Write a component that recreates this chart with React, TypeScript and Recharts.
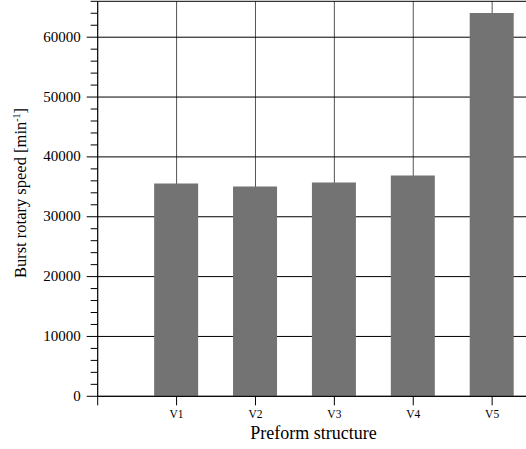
import React from "react"
import { BarChart, Bar, XAxis, YAxis, CartesianGrid } from "recharts"

const categories = ["V1", "V2", "V3", "V4", "V5"]
const positions = [1, 2, 3, 4, 5]
const burstSpeed = [35550, 35050, 35720, 36880, 64050]

const xTicks = [0, 1, 2, 3, 4, 5]
const majorY = [0, 10000, 20000, 30000, 40000, 50000, 60000]
const yTicks = Array.from({ length: 34 }, (_, i) => i * 2000)

const data = categories.map((name, i) => ({ name, pos: positions[i], speed: burstSpeed[i] }))

const FONT = "'Liberation Serif', 'Times New Roman', serif"

const YTick = (props: any) => {
  const { x, y, payload } = props
  const v = payload.value as number
  const major = v % 10000 === 0
  return (
    <g>
      <line x1={x - (major ? 11 : 7)} x2={x} y1={y} y2={y} stroke="#000" />
      {major && (
        <text x={x - 17} y={y} dy={4.5} textAnchor="end" fontSize={15} fontFamily={FONT} fill="#000">
          {v}
        </text>
      )}
    </g>
  )
}

const XTick = (props: any) => {
  const { x, y, payload } = props
  const idx = positions.indexOf(payload.value)
  if (idx < 0) return null
  return (
    <text x={x} y={y} dy={13} textAnchor="middle" fontSize={11.5} fontFamily={FONT} fill="#000">
      {categories[idx]}
    </text>
  )
}

export default function App() {
  return (
    <div style={{ position: "absolute", left: 0, top: 0, width: 526, height: 449, overflow: "hidden", background: "#fff" }}>
      <BarChart
        width={540}
        height={449}
        data={data}
        margin={{ top: 1.3, right: 8.4, left: 0, bottom: 0 }}
        barSize={44}
      >
        <CartesianGrid horizontal={false} vertical stroke="#555" />
        <CartesianGrid horizontal vertical={false} stroke="#000" horizontalValues={[...majorY, 66000]} />
        <XAxis
          dataKey="pos"
          type="number"
          domain={[0, 5.5]}
          ticks={xTicks}
          interval={0}
          allowDataOverflow
          height={52.7}
          tickSize={9}
          tickMargin={0}
          tick={<XTick />}
          axisLine={{ stroke: "#000" }}
          tickLine={{ stroke: "#000" }}
        />
        <YAxis
          type="number"
          domain={[0, 66000]}
          ticks={yTicks}
          interval={0}
          allowDataOverflow
          width={97.7}
          tickSize={0}
          tickMargin={0}
          tick={<YTick />}
          tickLine={false}
          axisLine={{ stroke: "#000" }}
        />
        <Bar dataKey="speed" fill="#737373" isAnimationActive={false} />
      </BarChart>
      <svg width={526} height={449} style={{ position: "absolute", left: 0, top: 0, pointerEvents: "none" }}>
        <text
          transform="translate(26,193) rotate(-90)"
          textAnchor="middle"
          fontSize={16.5}
          fontFamily={FONT}
          fill="#000"
        >
          Burst rotary speed [min
          <tspan dy={-6} fontSize={10}>-1</tspan>
          <tspan dy={6}>]</tspan>
        </text>
        <text x={313.5} y={439} textAnchor="middle" fontSize={18} fontFamily={FONT} fill="#000">
          Preform structure
        </text>
      </svg>
    </div>
  )
}
